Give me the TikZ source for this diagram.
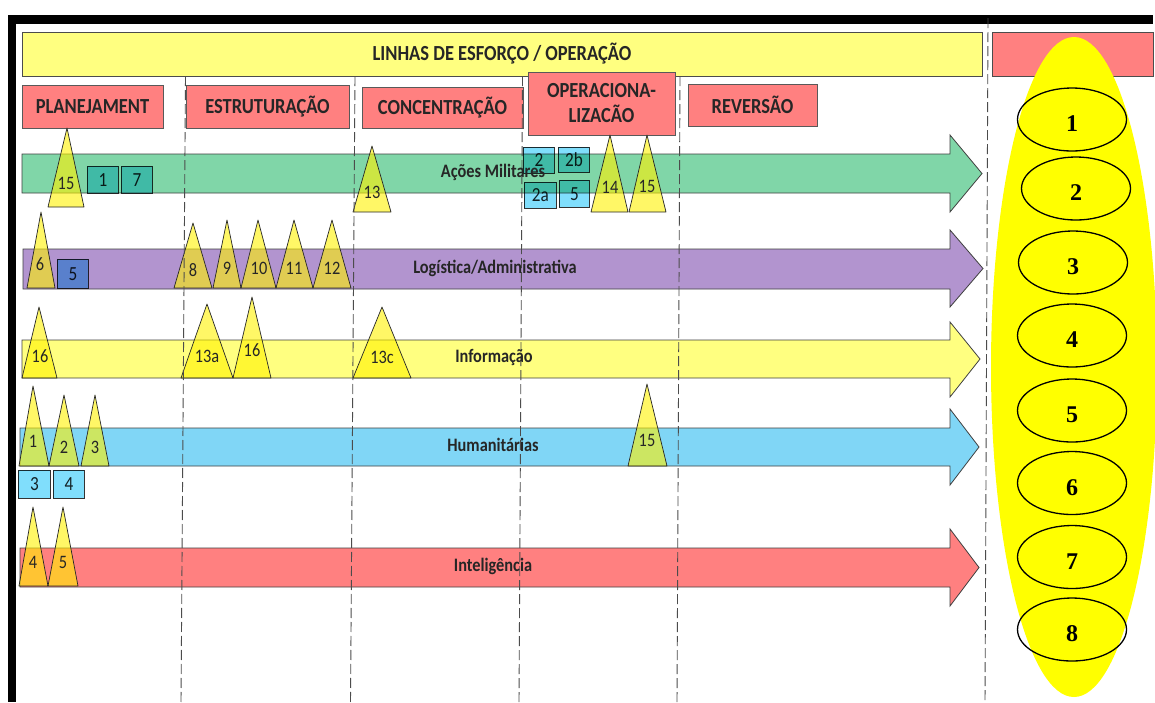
\documentclass[tikz,border=0pt]{standalone}
\usepackage{fontspec}
\setmainfont{Carlito}[FakeStretch=0.86]
\newfontfamily\objfont{Liberation Serif}
\usepackage{tikz}
\usetikzlibrary{shapes.geometric}
\definecolor{titleyellow}{RGB}{255,255,128}
\definecolor{phasepink}{RGB}{255,128,128}
\definecolor{acoesgreen}{RGB}{128,214,168}
\definecolor{logpurple}{RGB}{178,148,207}
\definecolor{infoyellow}{RGB}{255,255,128}
\definecolor{humblue}{RGB}{128,214,246}
\definecolor{intred}{RGB}{255,128,128}
\definecolor{taskblue}{RGB}{128,222,252}
\definecolor{endyellow}{RGB}{255,255,0}

\begin{document}
\begin{tikzpicture}[
    x=1pt, y=-1pt,
    header/.style={draw=black!70, line width=0.9pt, minimum height=44pt, font=\fontsize{21.5}{24}\selectfont\bfseries, text=black!85},
    phase/.style={draw=black!65, line width=0.9pt, fill=phasepink, font=\fontsize{21.5}{25}\selectfont\bfseries, text=black!85, align=center},
    lea/.style={draw=black!75, line width=0.8pt},
    leatext/.style={font=\fontsize{19}{20}\selectfont\bfseries, text=black!85},
    tri/.style={draw=black!85, line width=0.7pt, fill=yellow, fill opacity=0.6, line join=round},
    num/.style={inner sep=0pt, font=\fontsize{19}{19}\selectfont, text=black!85},
    task/.style={draw=black!80, line width=0.8pt, fill=taskblue, blend mode=multiply, minimum width=31pt, minimum height=27pt, inner sep=0pt, anchor=north west, font=\fontsize{20}{20}\selectfont, text=black!85},
    phaseline/.style={draw=black!70, line width=0.9pt, dash pattern=on 10pt off 4pt},
    endstate/.style={ellipse, fill=endyellow, minimum width=166pt, minimum height=660pt, inner sep=0pt},
    objective/.style={ellipse, draw=black, line width=1.3pt, minimum width=109pt, minimum height=63pt, text height=24pt, text depth=0pt, font=\objfont\bfseries\fontsize{24}{24}\selectfont}
]
    \useasboundingbox (0,0) rectangle (1155,702);
    \fill[white] (0,0) rectangle (1155,702);
    % frame
    \fill[black] (8,15) rectangle (1153,24);
    \fill[black] (8,15) rectangle (16,702);

    % headers
    \node[header, fill=titleyellow, minimum width=960pt] (linhas) at (502,54) {LINHAS DE ESFORÇO / OPERAÇÃO};
    \node[header, fill=phasepink, minimum width=161pt] (estado) at (1072.5,54) {};

    % end state
    \node[endstate] (final) at (1074,367) {};
    \node[objective] (obj1) at (1072,119.5) {1};
    \node[objective] (obj2) at (1076,188.5) {2};
    \node[objective] (obj3) at (1073,262.5) {3};
    \node[objective] (obj4) at (1072,335.5) {4};
    \node[objective] (obj5) at (1072,410.5) {5};
    \node[objective] (obj6) at (1072,483) {6};
    \node[objective] (obj7) at (1072,557) {7};
    \node[objective] (obj8) at (1072,629.5) {8};

    % phases
    \node[phase, minimum width=141pt, minimum height=43pt] (planej) at (92.5,106.5) {PLANEJAMENT};
    \node[phase, minimum width=163pt, minimum height=43pt] (estrut) at (267.5,106.5) {ESTRUTURAÇÃO};
    \node[phase, minimum width=161pt, minimum height=41pt] (concent) at (442.5,107.5) {CONCENTRAÇÃO};
    \node[phase, minimum width=147pt, minimum height=63pt, inner sep=1pt] (operac) at (601.5,103.5) {OPERACIONA-\\LIZACÃO};
    \node[phase, minimum width=129pt, minimum height=42pt] (revers) at (752.5,105) {REVERSÃO};

    % lines of effort
    \draw[lea, fill=acoesgreen] (22,154) -- (950,154) -- (950,135) -- (982,173.5) -- (950,212) -- (950,193) -- (22,193) -- cycle;
    \draw[lea, fill=logpurple] (23,249) -- (950,249) -- (950,230) -- (983,268.5) -- (950,307) -- (950,289) -- (23,289) -- cycle;
    \draw[lea, fill=infoyellow] (22,340) -- (950,340) -- (950,322) -- (980,359) -- (950,397) -- (950,378) -- (22,378) -- cycle;
    \draw[lea, fill=humblue] (20,428) -- (950,428) -- (950,409) -- (979,447) -- (950,485) -- (950,466) -- (20,466) -- cycle;
    \draw[lea, fill=intred] (20,548) -- (950,548) -- (950,529) -- (979,567.5) -- (950,606) -- (950,587) -- (20,587) -- cycle;

    % Acoes Militares
    \draw[tri] (48,207) -- (67,128) -- (84,207) -- cycle;
    \node[num] (am15) at (66,183) {15};
    \draw[tri] (353,212) -- (372,146) -- (391,212) -- cycle;
    \node[num] (am13) at (372,192) {13};
    \draw[tri] (591,212) -- (610,135) -- (628,212) -- cycle;
    \node[num] (am14) at (610,187) {14};
    \draw[tri] (629,212) -- (647,135) -- (666,212) -- cycle;
    \node[num] (am15b) at (647,186) {15};
    \node[task] (ta1) at (87,166) {1};
    \node[task] (ta7) at (121,166) {7};
    \node[task, minimum height=26pt] (ta2) at (523,147) {2};
    \node[task, minimum height=25pt] (ta2b) at (558,147) {2b};
    \node[task, minimum width=32pt, minimum height=26pt] (ta2a) at (524,182) {2a};
    \node[task, minimum width=30pt] (ta5) at (559,180) {5};

    % Logistica
    \draw[tri] (27,288) -- (41,212) -- (55,288) -- cycle;
    \node[num] (lg6) at (40,264) {6};
    \draw[tri] (174,288) -- (193,223) -- (212,288) -- cycle;
    \node[num] (lg8) at (193,270) {8};
    \draw[tri] (213,288) -- (227,220) -- (241,288) -- cycle;
    \node[num] (lg9) at (227,268) {9};
    \draw[tri] (241,288) -- (258,220) -- (276,288) -- cycle;
    \node[num] (lg10) at (259,268) {10};
    \draw[tri] (276,288) -- (294,220) -- (313,288) -- cycle;
    \node[num] (lg11) at (294,268) {11};
    \draw[tri] (313,288) -- (332,220) -- (351,288) -- cycle;
    \node[num] (lg12) at (332,268) {12};
    \node[task, minimum height=29pt] (tl5) at (57,259) {5};

    % Informacao
    \draw[tri] (22,378) -- (39,307) -- (57,378) -- cycle;
    \node[num] (in16) at (40,356) {16};
    \draw[tri] (181,378) -- (207,304) -- (233,378) -- cycle;
    \node[num] (in13a) at (207,356) {13a};
    \draw[tri] (233,378) -- (252,297) -- (271,378) -- cycle;
    \node[num] (in16b) at (252,350) {16};
    \draw[tri] (353,378) -- (382,307) -- (411,378) -- cycle;
    \node[num] (in13c) at (382,357) {13c};

    % Humanitarias
    \draw[tri] (19,466) -- (33,386) -- (49,466) -- cycle;
    \node[num] (hu1) at (33,441) {1};
    \draw[tri] (49,466) -- (64,395) -- (79,466) -- cycle;
    \node[num] (hu2) at (64,447) {2};
    \draw[tri] (81,466) -- (95,395) -- (109,466) -- cycle;
    \node[num] (hu3) at (95,447) {3};
    \draw[tri] (628,466) -- (647,384) -- (667,466) -- cycle;
    \node[num] (hu15) at (647,440) {15};
    \node[task, minimum width=32pt, minimum height=28pt] (th3) at (18,470) {3};
    \node[task, minimum height=28pt] (th4) at (53,470) {4};

    % Inteligencia
    \draw[tri] (19,586) -- (33,507) -- (48,586) -- cycle;
    \node[num] (it4) at (33,562) {4};
    \draw[tri] (48,586) -- (63,507) -- (78,586) -- cycle;
    \node[num] (it5) at (63,562) {5};

    % phase limits
    \draw[phaseline] (185.5,76) -- (181,702);
    \draw[phaseline] (355,76) -- (350.5,702);
    \draw[phaseline] (522.5,76) -- (519,702);
    \draw[phaseline] (680,76) -- (677,702);
    \draw[phaseline] (988,18) -- (985,702);

    % labels of the lines
    \node[leatext] (acoes) at (493,172) {Ações Militares};
    \node[leatext] (logist) at (495,268) {Logística/Administrativa};
    \node[leatext] (inform) at (494,357) {Informação};
    \node[leatext] (human) at (493,445) {Humanitárias};
    \node[leatext] (intel) at (493,566) {Inteligência};
\end{tikzpicture}
\end{document}
